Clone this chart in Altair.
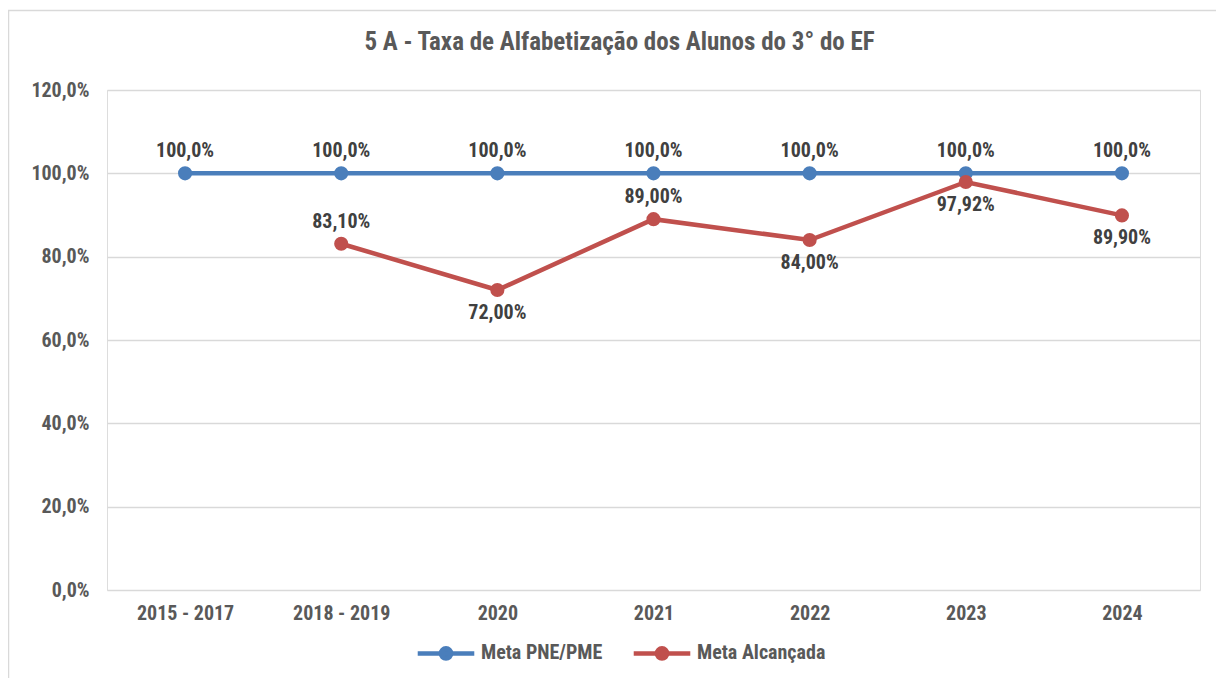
import altair as alt
import pandas as pd

categories = ["2015 - 2017", "2018 - 2019", "2020", "2021", "2022", "2023", "2024"]
meta_pne = [100.0, 100.0, 100.0, 100.0, 100.0, 100.0, 100.0]
meta_alcancada = [None, 83.10, 72.00, 89.00, 84.00, 97.92, 89.90]
series_names = ["Meta PNE/PME", "Meta Alcançada"]
series_colors = ["#4a7ebb", "#c0504d"]
y_ticks = [0, 20, 40, 60, 80, 100, 120]
title_text = "5 A - Taxa de Alfabetização dos Alunos do 3° do EF"

rows = []
for c, v in zip(categories, meta_pne):
    rows.append({"cat": c, "serie": series_names[0], "v": v,
                 "lab": f"{v:.1f}".replace(".", ",") + "%", "side": "above"})
red_above = {"2018 - 2019", "2021"}
for c, v in zip(categories, meta_alcancada):
    if v is None:
        continue
    rows.append({"cat": c, "serie": series_names[1], "v": v,
                 "lab": f"{v:.2f}".replace(".", ",") + "%",
                 "side": "above" if c in red_above else "below"})
df = pd.DataFrame(rows)

FONT = "Liberation Sans Narrow, Arial Narrow, Roboto Condensed, sans-serif"
GRAY = "#595959"
FS = 20

x_enc = alt.X("cat:N", sort=categories,
              scale=alt.Scale(type="point", padding=0.5),
              axis=alt.Axis(title=None, labelAngle=0, domain=False, ticks=False,
                            grid=False, labelPadding=13, labelFontSize=FS,
                            labelFont=FONT, labelFontWeight="bold", labelColor=GRAY))
y_enc = alt.Y("v:Q", scale=alt.Scale(domain=[0, 120], nice=False),
              axis=alt.Axis(title=None, values=y_ticks, domain=False, ticks=False,
                            grid=True, gridColor="#d9d9d9", gridWidth=1.5,
                            labelPadding=18, labelFontSize=FS, labelFont=FONT,
                            labelFontWeight="bold", labelColor=GRAY,
                            labelExpr="replace(format(datum.value, '.1f'), '.', ',') + '%'"))
color_enc = alt.Color("serie:N",
                      scale=alt.Scale(domain=series_names, range=series_colors),
                      legend=alt.Legend(title=None, orient="none", direction="horizontal",
                                        legendX=308, legendY=532,
                                        symbolType="M-1,0L1,0M-0.18,0A0.18,0.18,0,1,0,0.18,0A0.18,0.18,0,1,0,-0.18,0Z",
                                        symbolSize=3200, symbolStrokeWidth=4.5,
                                        labelFont=FONT, labelFontSize=FS,
                                        labelFontWeight="bold", labelColor=GRAY,
                                        labelOffset=4, columnPadding=21))

base = alt.Chart(df)

frame = alt.Chart(pd.DataFrame({"k": [0]})).mark_rect(
    fillOpacity=0, stroke="#d9d9d9", strokeWidth=1.5
).encode(x=alt.value(-98.5), y=alt.value(-79.5), x2=alt.value(1300), y2=alt.value(700))

lines = base.mark_line(strokeWidth=4.5).encode(
    x=x_enc, y=y_enc, color=color_enc, detail="serie:N")
points = base.mark_point(filled=True, size=200, opacity=1).encode(
    x=x_enc, y=y_enc, color=color_enc)

lab_common = dict(font=FONT, fontSize=FS, fontWeight="bold", color="#404040")
lab_above = base.transform_filter("datum.side == 'above'").mark_text(dy=-22, **lab_common).encode(
    x=x_enc, y=y_enc, text="lab:N")
lab_below = base.transform_filter("datum.side == 'below'").mark_text(dy=23, **lab_common).encode(
    x=x_enc, y=y_enc, text="lab:N")

blue_line = lines.transform_filter(alt.datum.serie == series_names[0])
red_line = lines.transform_filter(alt.datum.serie == series_names[1])
blue_pts = points.transform_filter(alt.datum.serie == series_names[0])
red_pts = points.transform_filter(alt.datum.serie == series_names[1])

chart = alt.layer(frame, blue_line, blue_pts, red_line, red_pts, lab_above, lab_below).properties(
    width=1093, height=500,
    autosize=alt.AutoSizeParams(type="none"),
    padding={"left": 99, "top": 82, "right": 16, "bottom": 88},
    title=alt.TitleParams(title_text, font=FONT, fontSize=25, fontWeight="bold", color=GRAY,
                          anchor="middle", dx=-34, offset=-65, baseline="alphabetic"),
).configure_view(stroke=None).configure(background="white")

chart.save("out.html", embed_options={"renderer": "svg", "actions": False})
